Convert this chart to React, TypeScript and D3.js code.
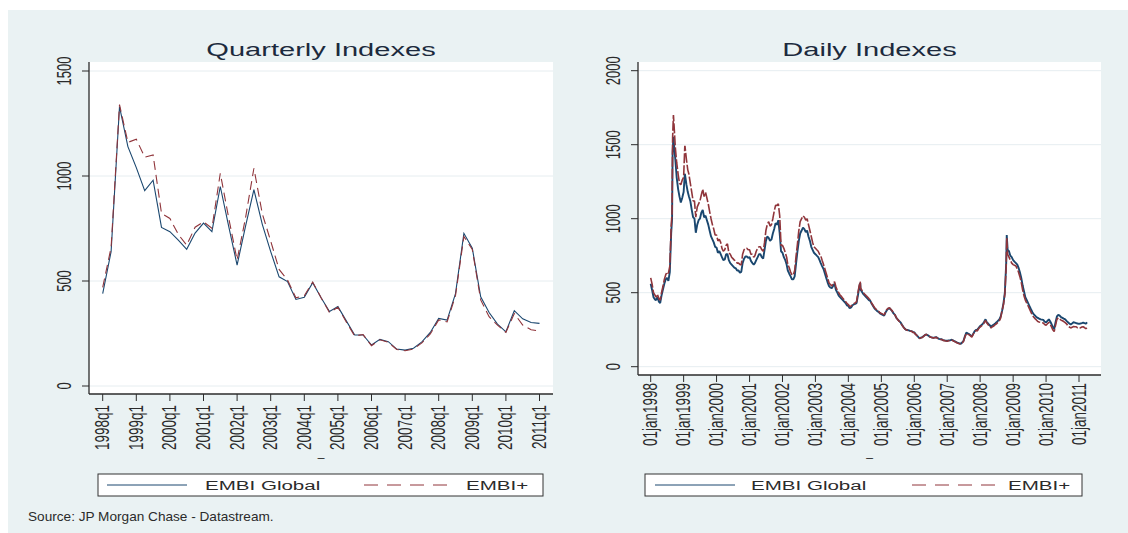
import React from "react";
import * as d3 from "d3";

// ---- data ----
const quarters = [
  "1998q1", "1998q2", "1998q3", "1998q4", "1999q1", "1999q2", "1999q3", "1999q4",
  "2000q1", "2000q2", "2000q3", "2000q4", "2001q1", "2001q2", "2001q3", "2001q4",
  "2002q1", "2002q2", "2002q3", "2002q4", "2003q1", "2003q2", "2003q3", "2003q4",
  "2004q1", "2004q2", "2004q3", "2004q4", "2005q1", "2005q2", "2005q3", "2005q4",
  "2006q1", "2006q2", "2006q3", "2006q4", "2007q1", "2007q2", "2007q3", "2007q4",
  "2008q1", "2008q2", "2008q3", "2008q4", "2009q1", "2009q2", "2009q3", "2009q4",
  "2010q1", "2010q2", "2010q3", "2010q4", "2011q1",
];

const quarterlyGlobal = [
  440, 640, 1330, 1140, 1040, 930, 980, 755,
  735, 695, 651, 728, 776, 735, 950, 760,
  576, 760, 935, 770, 640, 520, 497, 412,
  422, 492, 420, 355, 378, 310, 243, 243,
  195, 222, 211, 176, 171, 180, 210, 255,
  322, 314, 440, 727, 656, 425, 350, 295,
  258, 359, 320, 302, 298,
];

const quarterlyPlus = [
  470, 660, 1340, 1160, 1175, 1090, 1100, 822,
  798, 722, 671, 756, 782, 751, 1013, 800,
  600, 800, 1037, 820, 690, 555, 505, 420,
  430, 495, 420, 350, 375, 305, 238, 245,
  192, 220, 208, 174, 168, 176, 205, 248,
  315, 305, 430, 712, 650, 410, 330, 290,
  255, 345, 290, 268, 262,
];

const dailyYears = [1998, 1999, 2000, 2001, 2002, 2003, 2004, 2005, 2006, 2007, 2008, 2009, 2010, 2011];
const dailyFirstMonth = "1998-01-01";
const dailyLastMonth = "2011-04-01";

// first-of-month readings, Jan 1998 .. Apr 2011
const monthlyGlobal = [
  560, 470, 450, 440, 480, 560, 600, 640, 1450, 1400, 1200, 1110,
  1180, 1230, 1150, 1060, 1000, 960, 1000, 1060, 1020, 960, 880, 840,
  805, 780, 740, 725, 760, 700, 680, 665, 650, 640, 730, 745,
  740, 700, 700, 740, 760, 730, 850, 870, 860, 930, 960, 900,
  770, 720, 650, 610, 590, 700, 850, 920, 930, 920, 850, 790,
  760, 740, 700, 660, 600, 545, 530, 560, 500, 470, 450, 430,
  410, 400, 420, 430, 540, 505, 480, 460, 445, 410, 385, 370,
  355, 345, 380, 395, 375, 350, 320, 300, 270, 250, 245, 240,
  232, 210, 192, 200, 215, 212, 200, 195, 200, 188, 185, 178,
  175, 178, 180, 170, 160, 155, 175, 230, 220, 205, 240, 250,
  275, 290, 320, 290, 270, 285, 300, 320, 380, 500, 790, 750,
  720, 700, 670, 600, 510, 450, 410, 370, 345, 330, 320, 316,
  300, 320, 290, 255, 340, 345, 330, 320, 300, 285, 300, 295,
  290, 295, 295, 300,
];

// mid-month readings, same months (the daily series swings inside each month)
const midMonthGlobal = [
  520, 455, 470, 430, 520, 590, 580, 900, 1500, 1280, 1150, 1140,
  1300, 1180, 1120, 1010, 905, 990, 1040, 1010, 990, 920, 860, 810,
  770, 760, 720, 760, 720, 690, 670, 650, 635, 700, 745, 735,
  715, 690, 720, 760, 740, 790, 880, 850, 900, 970, 990, 780,
  740, 690, 630, 590, 610, 780, 900, 940, 910, 880, 810, 770,
  750, 720, 680, 630, 570, 535, 545, 520, 480, 460, 440, 415,
  395, 415, 425, 480, 520, 490, 470, 450, 425, 395, 375, 360,
  350, 365, 390, 385, 360, 330, 310, 285, 258, 248, 242, 236,
  220, 200, 196, 208, 218, 205, 198, 198, 194, 186, 180, 176,
  178, 182, 175, 165, 158, 165, 205, 225, 212, 222, 248, 262,
  282, 305, 300, 280, 278, 292, 310, 340, 430, 700, 780, 740,
  710, 690, 640, 550, 470, 430, 390, 355, 335, 325, 318, 305,
  310, 305, 270, 300, 350, 335, 325, 310, 292, 292, 298, 292,
  292, 298, 290,
];

const monthlyPlus = [
  600, 500, 470, 460, 500, 590, 640, 680, 1550, 1480, 1300, 1230,
  1280, 1400, 1300, 1180, 1120, 1080, 1120, 1200, 1180, 1100, 1000, 930,
  890, 860, 800, 790, 830, 760, 730, 715, 700, 690, 790, 800,
  790, 760, 750, 800, 810, 780, 920, 980, 960, 1050, 1090, 1020,
  820, 770, 690, 640, 620, 750, 920, 1000, 1010, 1000, 920, 840,
  800, 780, 750, 690, 630, 565, 545, 575, 515, 485, 462, 440,
  420, 410, 425, 440, 550, 515, 490, 470, 450, 415, 390, 375,
  360, 350, 385, 398, 378, 350, 318, 298, 268, 250, 245, 240,
  230, 210, 192, 198, 215, 212, 200, 195, 198, 187, 184, 176,
  172, 176, 178, 168, 158, 152, 172, 225, 215, 200, 235, 242,
  268, 282, 312, 282, 262, 275, 290, 310, 380, 490, 760, 720,
  690, 680, 640, 570, 480, 430, 390, 350, 325, 305, 300, 295,
  280, 300, 270, 238, 320, 322, 310, 298, 275, 262, 272, 270,
  262, 268, 265, 260,
];

const midMonthPlus = [
  560, 485, 490, 450, 540, 620, 630, 950, 1640, 1380, 1240, 1260,
  1490, 1330, 1240, 1120, 1010, 1100, 1160, 1150, 1140, 1050, 960, 890,
  850, 840, 780, 820, 770, 740, 720, 700, 690, 760, 800, 790,
  760, 740, 780, 810, 790, 840, 960, 950, 1000, 1090, 1100, 820,
  800, 740, 670, 620, 650, 830, 980, 1020, 990, 960, 880, 810,
  790, 760, 720, 660, 600, 555, 560, 540, 500, 475, 452, 428,
  405, 420, 430, 500, 530, 500, 480, 460, 430, 400, 380, 365,
  355, 370, 395, 388, 362, 332, 308, 283, 256, 246, 240, 232,
  218, 198, 195, 206, 218, 204, 196, 196, 192, 184, 178, 174,
  175, 180, 172, 162, 155, 160, 200, 220, 208, 218, 244, 258,
  276, 298, 295, 272, 270, 284, 300, 330, 420, 680, 740, 700,
  685, 660, 610, 520, 450, 410, 370, 336, 315, 302, 298, 285,
  290, 285, 250, 280, 330, 315, 305, 290, 268, 266, 270, 262,
  262, 270, 258,
];

// crisis peaks that fall between the readings above
const spikeDates = ["1998-08-26", "1998-09-10", "1999-01-14", "2004-05-12", "2008-10-22"];
const spikeGlobal = [1000, 1554, 1300, 565, 890];
const spikePlus = [1040, 1700, 1490, 575, 870];

const quarterlyYTicks = [0, 500, 1000, 1500];
const dailyYTicks = [0, 500, 1000, 1500, 2000];
const seriesNames = ["EMBI Global", "EMBI+"];
const sourceNote = "Source: JP Morgan Chase - Datastream.";

// ---- styling ----
const NAVY = "#1a476f";
const MAROON = "#90353b";
const BG = "#eaf2f3";
const GRID = "#e6edf0";
const INK = "#2b2b2b";
const FONT = "'Liberation Sans', Arial, Helvetica, sans-serif";
const SX = 1.5; // the original picture is stretched sideways

function HText(props: { x: number; y: number; size: number; anchor?: string; fill?: string; sx?: number; children: React.ReactNode }) {
  const { x, y, size, anchor = "start", fill = INK, sx = SX, children } = props;
  return (
    <text transform={`translate(${x},${y}) scale(${sx},1)`} fontSize={size} textAnchor={anchor} fill={fill} fontFamily={FONT}>
      {children}
    </text>
  );
}

function VText(props: { x: number; y: number; size: number; anchor?: string; children: React.ReactNode }) {
  const { x, y, size, anchor = "middle", children } = props;
  return (
    <text transform={`translate(${x},${y}) rotate(-90) scale(1,${SX})`} fontSize={size} textAnchor={anchor} fill={INK} fontFamily={FONT}>
      {children}
    </text>
  );
}

function Legend({ x, y, w, lineA, textA, lineB, textB }: { x: number; y: number; w: number; lineA: [number, number]; textA: number; lineB: [number, number]; textB: number }) {
  const h = 22;
  const cy = y + h / 2;
  return (
    <g>
      <rect x={x} y={y} width={w} height={h} fill="#fff" stroke="#333" strokeWidth={1} />
      <line x1={lineA[0]} x2={lineA[1]} y1={cy} y2={cy} stroke={NAVY} strokeWidth={1} />
      <HText x={textA} y={cy + 5} size={13.7}>{seriesNames[0]}</HText>
      <line x1={lineB[0]} x2={lineB[1]} y1={cy} y2={cy} stroke={MAROON} strokeWidth={1} strokeDasharray="14,9" />
      <HText x={textB} y={cy + 5} size={13.7}>{seriesNames[1]}</HText>
    </g>
  );
}

export default function App() {
  // ---- left panel: quarterly ----
  const L = { left: 89, right: 553, top: 62, bottom: 394 };
  const xq = d3.scalePoint<string>().domain(quarters).range([102.7, 539.5]);
  const yq = d3.scaleLinear().domain([0, 1500]).range([386, 71]);
  const qLine = d3
    .line<number>()
    .x((_, i) => xq(quarters[i])!)
    .y((d) => yq(d));
  const quarterTicks = quarters.filter((q) => q.endsWith("q1"));

  // ---- right panel: daily ----
  const R = { left: 638, right: 1101, top: 62, bottom: 375 };
  const parse = d3.timeParse("%Y-%m-%d");
  const months = d3.timeMonth.range(parse(dailyFirstMonth)!, d3.timeMonth.offset(parse(dailyLastMonth)!, 1));
  const xd = d3.scaleTime().domain([new Date(1998, 0, 1), new Date(2011, 0, 1)]).range([650.7, 1079]);
  const yd = d3.scaleLinear().domain([0, 2000]).range([366.7, 70.7]);
  const build = (monthly: number[], mid: number[], spikes: number[]) =>
    [
      ...months.map((m, i) => [m, monthly[i]] as [Date, number]),
      ...mid.map((v, i) => [d3.timeDay.offset(months[i], 15), v] as [Date, number]),
      ...spikeDates.map((s, i) => [parse(s)!, spikes[i]] as [Date, number]),
    ].sort((a, b) => +a[0] - +b[0]);
  const dLine = d3
    .line<[Date, number]>()
    .x((d) => xd(d[0]))
    .y((d) => yd(d[1]));
  const globalDaily = build(monthlyGlobal, midMonthGlobal, spikeGlobal);
  const plusDaily = build(monthlyPlus, midMonthPlus, spikePlus);

  return (
    <svg width={1128} height={533} style={{ position: "absolute", left: 0, top: 0 }}>
      <rect x={0} y={0} width={1128} height={533} fill="#fff" />
      <rect x={8} y={10} width={1120} height={523} fill={BG} />

      {/* ---------- Quarterly Indexes ---------- */}
      <HText x={(L.left + L.right) / 2} y={56} size={19} anchor="middle" fill="#1c2a3d" sx={1.53}>
        Quarterly Indexes
      </HText>
      <rect x={L.left} y={L.top} width={L.right - L.left} height={L.bottom - L.top} fill="#fff" />
      {quarterlyYTicks.map((t) => (
        <g key={t}>
          <line x1={L.left} x2={L.right} y1={yq(t)} y2={yq(t)} stroke={GRID} strokeWidth={1} />
          <line x1={L.left - 7} x2={L.left} y1={yq(t)} y2={yq(t)} stroke={INK} strokeWidth={1} />
          <VText x={71} y={yq(t)} size={13}>{t}</VText>
        </g>
      ))}
      {quarterTicks.map((q) => (
        <g key={q}>
          <line x1={xq(q)!} x2={xq(q)!} y1={L.bottom} y2={L.bottom + 7} stroke={INK} strokeWidth={1} />
          <VText x={xq(q)! + 6.5} y={405} size={13.5} anchor="end">{q}</VText>
        </g>
      ))}
      <line x1={L.left} x2={L.left} y1={L.top} y2={L.bottom} stroke={INK} strokeWidth={1.3} />
      <line x1={L.left} x2={L.right} y1={L.bottom} y2={L.bottom} stroke={INK} strokeWidth={1.3} />
      <path d={qLine(quarterlyGlobal)!} fill="none" stroke={NAVY} strokeWidth={1.1} />
      <path d={qLine(quarterlyPlus)!} fill="none" stroke={MAROON} strokeWidth={1.1} strokeDasharray="9,5" />
      <HText x={(L.left + L.right) / 2} y={456} size={12} anchor="middle" sx={1}>_</HText>
      <Legend x={98} y={474} w={445} lineA={[107, 187]} textA={205} lineB={[364, 448]} textB={466} />

      {/* ---------- Daily Indexes ---------- */}
      <HText x={(R.left + R.right) / 2} y={56} size={19} anchor="middle" fill="#1c2a3d" sx={1.53}>
        Daily Indexes
      </HText>
      <rect x={R.left} y={R.top} width={R.right - R.left} height={R.bottom - R.top} fill="#fff" />
      {dailyYTicks.map((t) => (
        <g key={t}>
          <line x1={R.left} x2={R.right} y1={yd(t)} y2={yd(t)} stroke={GRID} strokeWidth={1} />
          <line x1={R.left - 7} x2={R.left} y1={yd(t)} y2={yd(t)} stroke={INK} strokeWidth={1} />
          <VText x={620} y={yd(t)} size={13}>{t}</VText>
        </g>
      ))}
      {dailyYears.map((yr) => {
        const x = xd(new Date(yr, 0, 1));
        return (
          <g key={yr}>
            <line x1={x} x2={x} y1={R.bottom} y2={R.bottom + 7} stroke={INK} strokeWidth={1} />
            <VText x={x + 6.5} y={383} size={13.5} anchor="end">{`01jan${yr}`}</VText>
          </g>
        );
      })}
      <line x1={R.left} x2={R.left} y1={R.top} y2={R.bottom} stroke={INK} strokeWidth={1.3} />
      <line x1={R.left} x2={R.right} y1={R.bottom} y2={R.bottom} stroke={INK} strokeWidth={1.3} />
      <path d={dLine(globalDaily)!} fill="none" stroke={NAVY} strokeWidth={1.9} strokeLinejoin="bevel" />
      <path d={dLine(plusDaily)!} fill="none" stroke={MAROON} strokeWidth={1.6} strokeDasharray="10,2" strokeLinejoin="bevel" />
      <HText x={(R.left + R.right) / 2} y={456} size={12} anchor="middle" sx={1}>_</HText>
      <Legend x={645} y={474} w={437} lineA={[655, 735]} textA={751} lineB={[912, 996]} textB={1008} />

      <HText x={28} y={521} size={12.5} sx={1.09}>{sourceNote}</HText>
    </svg>
  );
}
